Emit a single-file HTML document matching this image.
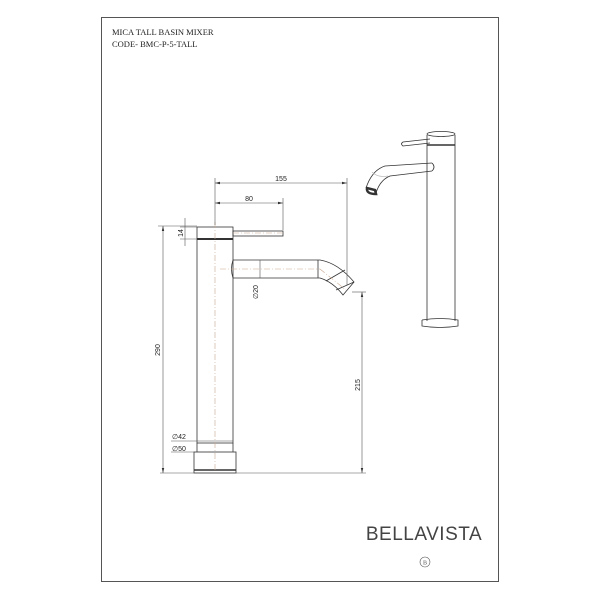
<!DOCTYPE html>
<html><head><style>body{margin:0;background:#fff}svg{display:block}</style></head><body>
<svg width="600" height="600" viewBox="0 0 600 600" xmlns="http://www.w3.org/2000/svg" font-family="Liberation Serif, serif">
<rect x="101.5" y="17.5" width="397" height="564" fill="none" stroke="#555" stroke-width="1"/>
<text x="112" y="35" font-size="8.5" fill="#222">MICA TALL BASIN MIXER</text>
<text x="112" y="47" font-size="8.5" fill="#222">CODE- BMC-P-5-TALL</text>
<g stroke="#333" fill="none" stroke-width="0.8">
<rect x="197" y="227" width="36" height="216"/>
<line x1="197" y1="239" x2="233" y2="239" stroke-width="2"/>
<rect x="194" y="452" width="42" height="21"/>
<line x1="194" y1="470" x2="236" y2="470" stroke-width="1.5"/>
<line x1="197" y1="443" x2="197" y2="452"/><line x1="233" y1="443" x2="233" y2="452"/>
<rect x="233" y="231" width="50" height="5"/>
<path d="M233 260 L320 260 Q338 263 354 282 L343 295 Q333 282 320 278 L233 278"/>
<path d="M233 260 Q230 269 233 278"/>
<line x1="318" y1="260" x2="318" y2="278"/>
<line x1="326" y1="281" x2="345" y2="270"/>
<line x1="336" y1="290" x2="354" y2="282"/>
</g>
<g stroke="#c9a890" stroke-width="0.6" stroke-dasharray="6,2,1,2" fill="none">
<line x1="215" y1="222" x2="215" y2="470"/>
<line x1="233" y1="233" x2="283" y2="233"/>
<line x1="220" y1="269" x2="320" y2="269"/>
<line x1="320" y1="269" x2="346" y2="290"/>
</g>
<g stroke="#555" stroke-width="0.6" fill="none">
<line x1="215" y1="183" x2="347" y2="183"/><line x1="215" y1="178" x2="215" y2="225"/><line x1="347" y1="178" x2="347" y2="285"/>
<line x1="215" y1="203" x2="283" y2="203"/><line x1="283" y1="198" x2="283" y2="230"/>
<line x1="185" y1="218" x2="185" y2="246"/><line x1="180" y1="227" x2="197" y2="227"/><line x1="180" y1="239" x2="197" y2="239"/>
<line x1="163" y1="226" x2="163" y2="473"/><line x1="158" y1="226" x2="197" y2="226"/>
<line x1="160" y1="473" x2="366" y2="473"/>
<line x1="362" y1="292" x2="362" y2="473"/><line x1="352" y1="292" x2="366" y2="292"/>
<line x1="260" y1="260" x2="260" y2="278"/>
<line x1="171" y1="441" x2="233" y2="441"/><line x1="171" y1="452" x2="236" y2="452"/>
</g>
<g fill="#333">
<path d="M215 183 l5 -1.2 v2.4z M347 183 l-5 -1.2 v2.4z M215 203 l5 -1.2 v2.4z M283 203 l-5 -1.2 v2.4z"/>
<path d="M163 226 l-1.2 5 h2.4z M163 473 l-1.2 -5 h2.4z M362 292 l-1.2 5 h2.4z M362 473 l-1.2 -5 h2.4z"/>
</g>
<g font-family="Liberation Sans, sans-serif" font-size="7" fill="#222">
<text x="281" y="181" text-anchor="middle">155</text>
<text x="249" y="201" text-anchor="middle">80</text>
<text transform="translate(183,233) rotate(-90)" text-anchor="middle">14</text>
<text transform="translate(160,350) rotate(-90)" text-anchor="middle">290</text>
<text transform="translate(360,385) rotate(-90)" text-anchor="middle">215</text>
<text transform="translate(258,292) rotate(-90)" text-anchor="middle">∅20</text>
<text x="172" y="439">∅42</text>
<text x="172" y="451">∅50</text>
</g>
<g stroke="#333" fill="none" stroke-width="0.8">
<path d="M427 135 L427 321 M455 135 L455 321"/>
<ellipse cx="441" cy="134" rx="14" ry="2.5"/>
<line x1="427" y1="145" x2="455" y2="145" stroke-width="1.5"/>
<path d="M422 320 L422 326 Q440 329 458 326 L458 320 Q440 317 422 320"/>
<path d="M430 143 L403 146 Q400 144 403 142 L430 139"/>
<path d="M432 163 L385 166 Q372 170 366 188 M432 171 L390 176 Q380 180 376 193"/>
<path d="M432 163 Q436 167 432 171"/>
<path d="M367 188 Q366 194 376 194 L375 190 Z" stroke-width="2.5"/>
<path d="M372 172 Q378 178 388 176" stroke="#bbb"/>
</g>
<text x="424" y="540" font-family="Liberation Sans, sans-serif" font-size="19" fill="#444" text-anchor="middle" letter-spacing="0.5">BELLAVISTA</text>
<circle cx="425" cy="562" r="5" fill="none" stroke="#555" stroke-width="0.6"/>
<text x="425" y="564.5" font-size="6" text-anchor="middle" fill="#555">B</text>
</svg>
</body></html>
